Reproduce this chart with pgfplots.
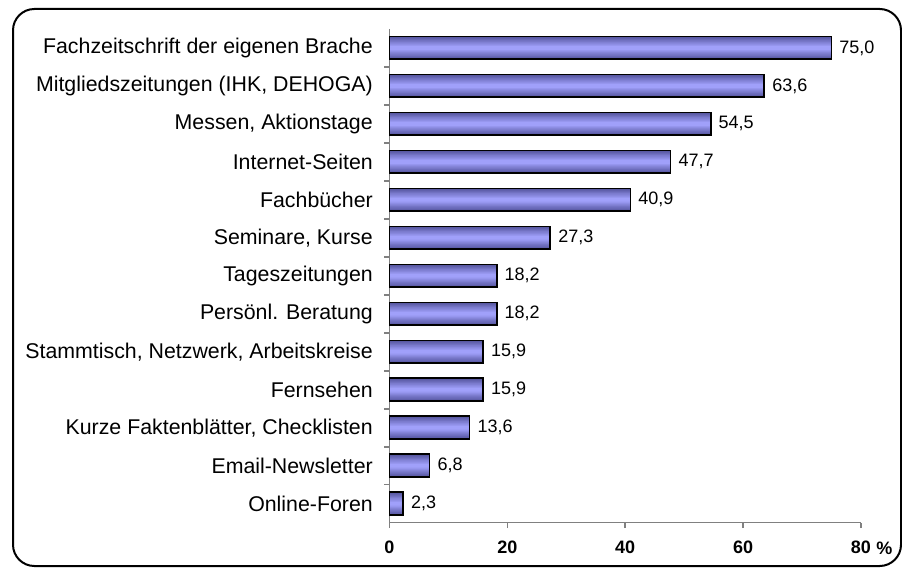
\documentclass[border=0pt]{standalone}
\usepackage{pgfplots}
\usepackage{pgfplotstable}
\pgfplotsset{compat=1.18}
\usepackage{fontspec}
\setmainfont{Liberation Sans}
\definecolor{axgray}{RGB}{128,128,128}
\definecolor{baredge}{RGB}{86,86,160}
\definecolor{barmid}{RGB}{160,160,250}
\pgfplotstableread{
v i
75.0 0
63.6 1
54.5 2
47.7 3
40.9 4
27.3 5
18.2 6
18.2 7
15.9 8
15.9 9
13.6 10
6.8 11
2.3 12
}\datatable
\begin{document}
\begin{tikzpicture}
\useasboundingbox (0,0) rectangle (676.5pt,426pt);
\begin{scope}
\clip (0,0) rectangle (676.5pt,426pt);
\draw[line width=1.5pt, rounded corners=16pt] (9.75pt,1.5pt) rectangle (675.75pt,419.25pt);
\end{scope}
\begin{axis}[
  at={(292.1pt,34pt)}, anchor=south west,
  scale only axis, width=353.6pt, height=370.3pt,
  xbar, bar shift=0pt,
  y dir=reverse,
  xmin=0, xmax=80, ymin=-0.5, ymax=12.5,
  axis x line*=bottom, axis y line*=left,
  axis line style={axgray, line width=1.2pt},
  xtick={0,20,40,60,80},
  tick style={axgray, line width=1.2pt},
  tick align=outside,
  major tick length=4pt,
  ytick={0,...,12},
  minor ytick={0.5,1.5,...,11.5},
  minor tick length=4pt,
  major y tick style={draw=none},
  yticklabels={Fachzeitschrift der eigenen Brache, Mitgliedszeitungen (IHK{,} DEHOGA), {Messen, Aktionstage}, Internet-Seiten, Fachbücher, {Seminare, Kurse}, Tageszeitungen, Persönl. Beratung, {Stammtisch, Netzwerk, Arbeitskreise}, Fernsehen, {Kurze Faktenblätter, Checklisten}, Email-Newsletter, Online-Foren},
  yticklabel style={font=\fontsize{16}{19}\selectfont, xshift=-5pt},
  xticklabel style={font=\fontsize{13.5}{16}\selectfont\bfseries, yshift=-6pt},
  /pgf/number format/assume math mode=true,
  clip=false,
  layer/.style={draw=none, fill=#1},
]
\addplot[layer=baredge, bar width=0.6] table[x=v,y=i]{\datatable};
\addplot[layer=barmid!12!baredge, bar width=0.5375] table[x=v,y=i]{\datatable};
\addplot[layer=barmid!25!baredge, bar width=0.475] table[x=v,y=i]{\datatable};
\addplot[layer=barmid!37!baredge, bar width=0.4125] table[x=v,y=i]{\datatable};
\addplot[layer=barmid!50!baredge, bar width=0.35] table[x=v,y=i]{\datatable};
\addplot[layer=barmid!62!baredge, bar width=0.2875] table[x=v,y=i]{\datatable};
\addplot[layer=barmid!75!baredge, bar width=0.225] table[x=v,y=i]{\datatable};
\addplot[layer=barmid!87!baredge, bar width=0.1625] table[x=v,y=i]{\datatable};
\addplot[layer=barmid, bar width=0.1] table[x=v,y=i]{\datatable};
\addplot[draw=black, fill=none, line width=1.3pt, bar width=0.6,
  nodes near coords,
  nodes near coords style={font=\fontsize{13.5}{16}\selectfont, black, xshift=2pt, /pgf/number format/.cd, fixed, fixed zerofill, precision=1, use comma}]
  table[x=v,y=i]{\datatable};
\node[font=\fontsize{13.5}{16}\selectfont\bfseries, anchor=west] at ([xshift=8pt, yshift=-19.5pt]rel axis cs:1,0) {\%};
\end{axis}
\end{tikzpicture}
\end{document}
